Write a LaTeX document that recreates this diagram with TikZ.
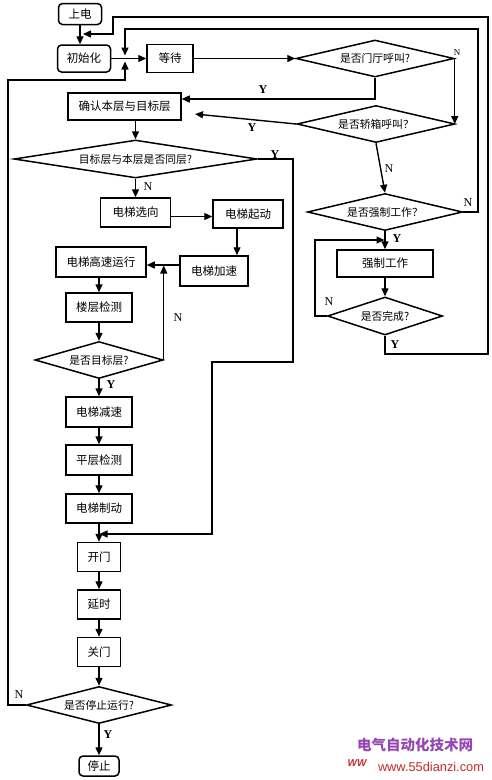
\documentclass[tikz,border=0pt]{standalone}
\usepackage{fontspec}
\setmainfont{Liberation Serif}
\newfontfamily\cjk{Noto Sans CJK SC}
\newfontfamily\wmfont{Liberation Sans}
\usetikzlibrary{shapes.geometric,arrows.meta}
\definecolor{wmpurple}{HTML}{9646B4}
\definecolor{wmred}{HTML}{C82A2A}
\begin{document}
\begin{tikzpicture}[x=1pt,y=-1pt,
 box/.style={draw,line width=1.5pt,inner sep=0pt,font=\cjk\fontsize{11.5}{12}\selectfont},
 rbox/.style={box,rounded corners=4pt},
 dia/.style={draw,diamond,line width=1.5pt,inner sep=0pt,font=\cjk\fontsize{10.8}{12}\selectfont},
 arr/.style={line width=1.4pt,-{Triangle[length=8pt,width=7pt]}},
 lab/.style={font=\fontsize{12}{12}\selectfont},
 laby/.style={font=\fontsize{12}{12}\selectfont\bfseries},
]
\fill[white] (0,0) rectangle (492,780);

% left column
\node[rbox,minimum width=43pt,minimum height=21pt] (sd) at (80,14) {上电};
\node[rbox,minimum width=53pt,minimum height=27pt] (init) at (84,58.5) {初始化};
\node[box,minimum width=46pt,minimum height=28pt] (wait) at (170,58.5) {等待};
\node[dia,minimum width=158pt,minimum height=37pt,aspect=4.2] (dt) at (375,58.5) {是否门厅呼叫?};
\node[dia,minimum width=158pt,minimum height=37pt,aspect=4.2] (jx) at (376,124) {是否轿箱呼叫？};
\node[box,minimum width=113pt,minimum height=27pt] (qr) at (124.5,106.5) {确认本层与目标层};
\node[dia,minimum width=243pt,minimum height=38pt,aspect=6.4] (tc) at (135.5,159) {目标层与本层是否同层?};
\node[box,minimum width=70pt,minimum height=29pt] (xx) at (135.5,212.5) {电梯选向};
\node[box,minimum width=70pt,minimum height=28pt] (qd) at (248,214) {电梯起动};
\node[box,minimum width=68pt,minimum height=30pt] (js) at (214,271) {电梯加速};
\node[box,minimum width=90pt,minimum height=30pt] (gs) at (101,262) {电梯高速运行};
\node[box,minimum width=66pt,minimum height=29pt] (lc) at (99,307.5) {楼层检测};
\node[dia,minimum width=128pt,minimum height=37pt,aspect=3.5] (mb) at (99,360) {是否目标层?};
\node[box,minimum width=66pt,minimum height=30pt] (jsu) at (99,412) {电梯减速};
\node[box,minimum width=66pt,minimum height=30pt] (pc) at (99,460) {平层检测};
\node[box,minimum width=66pt,minimum height=29pt] (zd) at (99,508.5) {电梯制动};
\node[box,minimum width=43pt,minimum height=29pt] (km) at (99,557) {开门};
\node[box,minimum width=43pt,minimum height=29pt] (ys) at (99,604.5) {延时};
\node[box,minimum width=43pt,minimum height=29pt] (gm) at (99,652) {关门};
\node[dia,minimum width=145pt,minimum height=37pt,aspect=3.9] (tz) at (99,705) {是否停止运行?};
\node[rbox,minimum width=40pt,minimum height=20pt] (stop) at (99,766) {停止};

% right column
\node[dia,minimum width=155pt,minimum height=37pt,aspect=4] (qz) at (385,212) {是否强制工作？};
\node[box,minimum width=96pt,minimum height=27pt] (qzw) at (385,263.5) {强制工作};
\node[dia,minimum width=115pt,minimum height=38pt,aspect=2.8] (wc) at (385,316) {是否完成?};

% helper coordinates
\coordinate (j1) at (125,58.5);
\coordinate (m1) at (80,34);
\coordinate (jxy) at (195,114);
\coordinate (ya) at (293,362);
\coordinate (yb) at (212,534);
\coordinate (na) at (8,80);
\coordinate (nb) at (478,29);
\coordinate (nc) at (315,240);
\coordinate (yc) at (488,354);
\coordinate (yd) at (113,17);
\coordinate (jl) at ([yshift=6pt]js.west);

% connectors
\draw[arr] (sd.south) -- (sd.south |- init.north);
\draw[arr] (init.east) -- (wait.west);
\draw[arr] (wait.east) -- (dt.west);
\draw[arr] (dt.east) -- (dt.east |- jx.east);
\node[font=\fontsize{9}{9}\selectfont] (ldtn) at (457,53) {N};
\draw[arr] (dt.south) |- ([yshift=7.5pt]qr.east);
\node[laby] (ldty) at (263,90) {Y};
\draw[arr] (jx.west) -- (jxy);
\node[laby] (ljxy) at (252,128) {Y};
\draw[arr] (jx.south) -- (qz.north);
\node[lab] (ljxn) at (389,169) {N};

\draw[arr] (qr.south -| tc.north) -- (tc.north);
\draw[arr] (tc.south) -- (xx.north);
\node[lab] (ltcn) at (148,187) {N};
\draw[arr,shorten >=0.5pt] (tc.east) -| (ya) -| (yb) -- (yb -| zd.south);
\node[laby] (ltcy) at (275,155) {Y};
\draw[arr] ([yshift=-4pt]xx.east) -- ([yshift=-4pt]xx.east -| qd.west);
\draw[arr] ([xshift=-11pt]qd.south) -- ([xshift=-11pt]qd.south |- js.north);
\draw[arr] (jl) -- (jl -| gs.east);
\draw[arr,shorten >=0.5pt] (mb.east) -- (mb.east |- jl);
\node[lab] (lmbn) at (178,318) {N};

\draw[arr] (gs.south -| lc.north) -- (lc.north);
\draw[arr] (lc.south) -- (mb.north);
\draw[arr] (mb.south) -- (jsu.north);
\node[laby] (lmby) at (111,385) {Y};
\draw[arr] (jsu.south) -- (pc.north);
\draw[arr] (pc.south) -- (zd.north);
\draw[arr] (zd.south) -- (km.north);
\draw[arr] (km.south) -- (ys.north);
\draw[arr] (ys.south) -- (gm.north);
\draw[arr] (gm.south) -- (tz.north);
\draw[arr] (tz.south) -- (stop.north);
\node[laby] (ltzy) at (108,735) {Y};
\draw[arr,shorten >=3pt] (tz.west) -| (na) -| (j1);
\node[lab] (ltzn) at (19,695) {N};

\draw[arr,shorten >=3pt] (qz.east) -| (nb) -| (j1);
\node[lab] (lqzn) at (468,203) {N};
\draw[arr] (qz.south) -- (qzw.north);
\node[laby] (lqzy) at (397,239) {Y};
\draw[arr] (qzw.south) -- (wc.north);
\draw[arr,shorten >=0.5pt] (wc.west) -| (nc) -- (nc -| qz.south);
\node[lab] (lwcn) at (329,302) {N};
\draw[arr,shorten >=3pt] (wc.south) |- (yc) |- (yd) |- (m1);
\node[laby] (lwcy) at (395,345) {Y};

% watermark
\node[font=\cjk\bfseries\fontsize{14.5}{15}\selectfont,text=wmpurple,inner sep=0pt] (wm1) at (415,745) {电气自动化技术网};
\node[font=\wmfont\fontsize{12.8}{13}\selectfont,text=wmred,inner sep=0pt] (wm2) at (431,767) {www.55dianzi.com};
\node[font=\wmfont\bfseries\itshape\fontsize{10}{10}\selectfont,text=wmred,inner sep=0pt] (wm3) at (357,763) {WW};
\end{tikzpicture}
\end{document}
